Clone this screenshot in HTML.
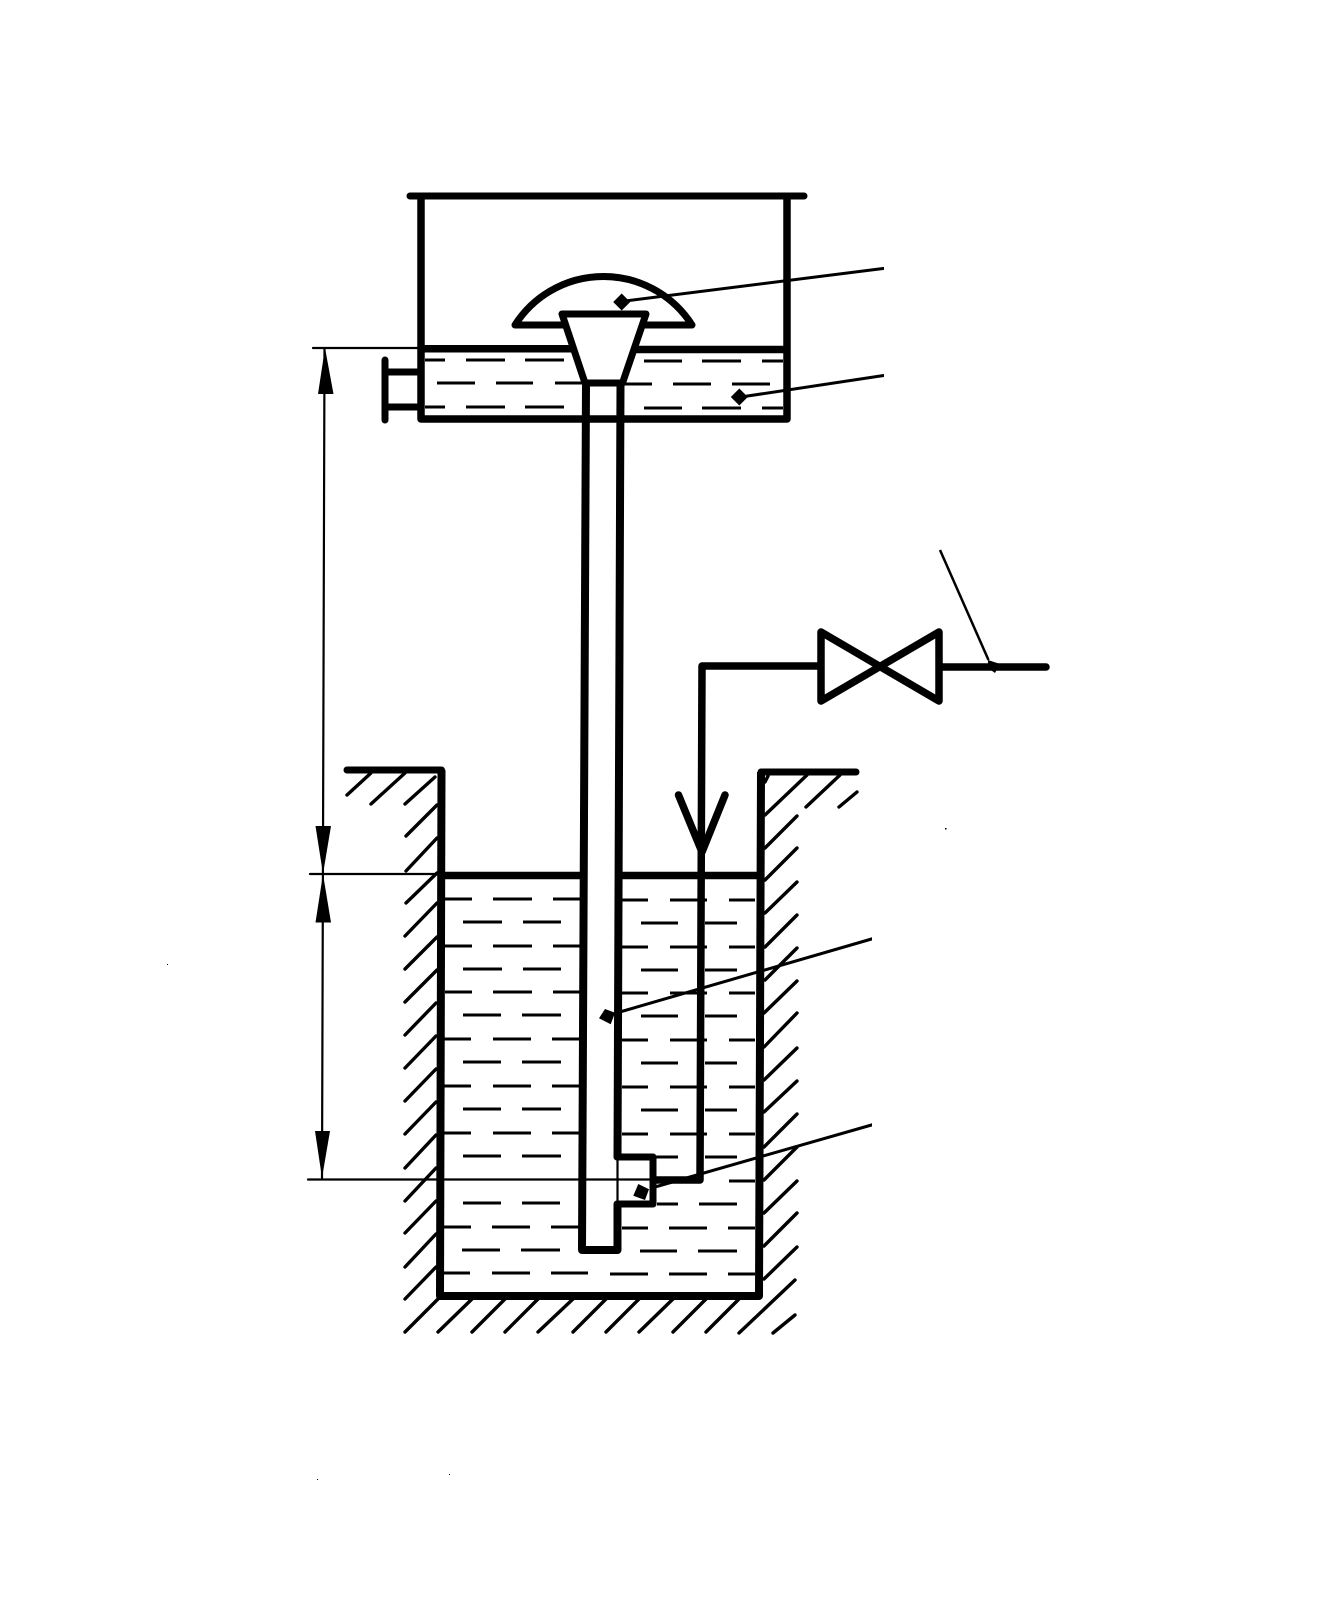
<!DOCTYPE html>
<html><head><meta charset="utf-8"><style>html,body{margin:0;padding:0;background:#fff}svg{display:block}</style></head>
<body>
<svg width="1334" height="1608" viewBox="0 0 1334 1608" xmlns="http://www.w3.org/2000/svg" fill="none" stroke="#000" stroke-linecap="round" stroke-linejoin="round">
<!-- thin dimension and extension lines -->
<path stroke-width="2.200" d="M324.500 349L322 1178M313 348H422M310 874H442M308 1179.500H652M617.500 1157V1204"/>
<path fill="#000" stroke="none" d="M325 348L333.500 394H318ZM323 874L331 826H315.500ZM323 874L331 922.500H315.500ZM322 1178L330 1131H315Z"/>
<!-- hatching -->
<path stroke-width="3.400" d="M347 795L371 773M371 804L405 773M405 804L435 777M406 836L437 805M406 871L437 838M406 903L437 873M405 936L437 903M405 969L437 937M405 1002L437 970M405 1035L436 1003M405 1068L436 1036M405 1101L436 1069M405 1134L436 1102M405 1168L436 1135M405 1201L436 1168M405 1233L436 1201M405 1267L436 1234M405 1299L436 1267
M405 1332L438 1299M438 1332L472 1299M472 1332L505 1299M505 1332L538 1299M538 1332L573 1299M573 1332L606 1299M606 1332L639 1299M639 1332L673 1299M673 1332L706 1299M706 1332L739 1299M739 1333L795 1280M773 1333L795 1315
M765 782L768 776M765 815L807 775M806 807L840 775M839 807L857 792M765 848L797 816M765 880L797 848M765 913L797 882M765 947L797 915M765 980L797 948M764 1013L797 981M764 1047L797 1013M764 1080L797 1048M764 1112L797 1081M764 1147L797 1114M764 1180L797 1147M764 1213L797 1181M764 1246L797 1213M764 1279L797 1247"/>
<!-- liquid dashes -->
<path stroke-width="3" stroke-linecap="butt" d="M425 360H445M466 360H505M525 360H564M644 361H682M702 361H741M762 361H783
M437 383H475M496 383H533M555 383H582M620 384H652M673 384H711M732 384H770
M425 407H445M466 407H505M525 407H564M644 408H682M702 408H741M762 408H783
M445 899H472M493 899H532M553 899H580M622 900H648M670 900H707M729 900H755
M463 922H502M523 922H561M641 923H678M705 923H737
M445 946H472M493 946H532M553 946H580M622 947H648M670 947H707M729 947H755
M463 969H502M523 969H561M641 970H678M705 970H737
M445 992H472M493 992H532M553 992H580M622 993H648M670 993H707M729 993H755
M463 1015H501M522 1015H561M641 1016H678M705 1016H737
M444 1039H471M493 1039H531M552 1039H579M622 1040H648M670 1040H707M729 1040H755
M463 1062H501M522 1062H561M641 1063H678M705 1063H737
M444 1086H471M493 1086H531M552 1086H579M622 1087H648M670 1087H707M729 1087H755
M463 1109H501M522 1109H561M641 1110H678M705 1110H737
M444 1133H471M493 1133H531M552 1133H579M622 1134H648M670 1134H707M729 1134H755
M463 1156H501M522 1156H561M656 1157H678M705 1157H737
M729 1181H755
M463 1203H501M522 1203H560M657 1204H678M699 1204H737
M444 1227H471M492 1227H530M551 1227H579M622 1228H648M669 1228H707M728 1228H755
M462 1250H500M521 1250H560M640 1251H677M698 1251H737
M444 1273H470M492 1273H530M551 1273H588M610 1274H648M669 1274H707M728 1274H755"/>
<!-- upper tank -->
<path stroke-width="7" d="M410 196H804"/>
<path stroke-width="7.500" stroke-linecap="butt" stroke-linejoin="round" d="M421 196V419H787V196"/>
<path stroke-width="7.500" stroke-linecap="butt" d="M421 348.700H575M634 349.500H787"/>
<path stroke-width="7" d="M385 360V420"/>
<path stroke-width="7" stroke-linecap="butt" d="M385 372H421M385 407H421"/>
<!-- dome -->
<path stroke-width="7" d="M565 325H515A105 105 0 0 1 692 325H644"/>
<!-- funnel + tube -->
<path fill="#fff" stroke-width="7" d="M562 314H646L622.500 383H585Z"/>
<path stroke-width="8" stroke-linecap="butt" d="M586 384L582 1250H617.500V1204M620.500 384L617.500 1157"/>
<!-- nozzle -->
<path stroke-width="7" d="M617 1157H653V1204H617"/>
<!-- air pipe and valve -->
<path stroke-width="7.500" d="M821 666H702L700 1180H656"/>
<path stroke-width="7.500" d="M939 667H1046"/>
<path fill="#fff" stroke-width="7.500" d="M821 632L939 701V632L821 701Z"/>
<path stroke-width="7.500" d="M678.500 795L702 852L725 795"/>
<!-- well -->
<path stroke-width="7" d="M347 770H441.500"/>
<path stroke-width="8" stroke-linecap="butt" d="M441.500 770L440 1296H759L761 772"/>
<path stroke-width="7" d="M761 772H856"/>
<path stroke-width="7.500" stroke-linecap="butt" d="M441 875.500H584M619 875.500H761"/>
<!-- leaders -->
<path stroke-width="2.500" stroke-linecap="butt" d="M940 550L988.500 660"/>
<path stroke-width="3" stroke-linecap="butt" d="M625 301L887 268M741 397L887 375M618 1012.500L875 938M655 1187L875 1124" transform="translate(0 0)"/>
<path fill="#fff" stroke="none" d="M884 262H892V380H884ZM872 930H880V1130H872Z"/>
<path fill="#000" stroke="none" d="M621.700 293.500L630.200 302L621.700 310.500L613.200 302ZM739.300 388.500L747.800 397L739.300 405.500L730.800 397ZM605 1009L615 1012.700L610.700 1024.300L599 1018.300ZM638.300 1184L649 1189.300L645 1200L633.300 1195.700Z"/>
<path fill="#000" stroke="none" d="M988 660L1000 664L995 673L988 668Z"/>
<g fill="#000" stroke="none"><rect x="945" y="828" width="1.500" height="1.500"/><rect x="167" y="964" width="1" height="1"/><rect x="317" y="1479" width="1" height="1"/><rect x="449" y="1474" width="1" height="1"/></g>
</svg>
</body></html>
